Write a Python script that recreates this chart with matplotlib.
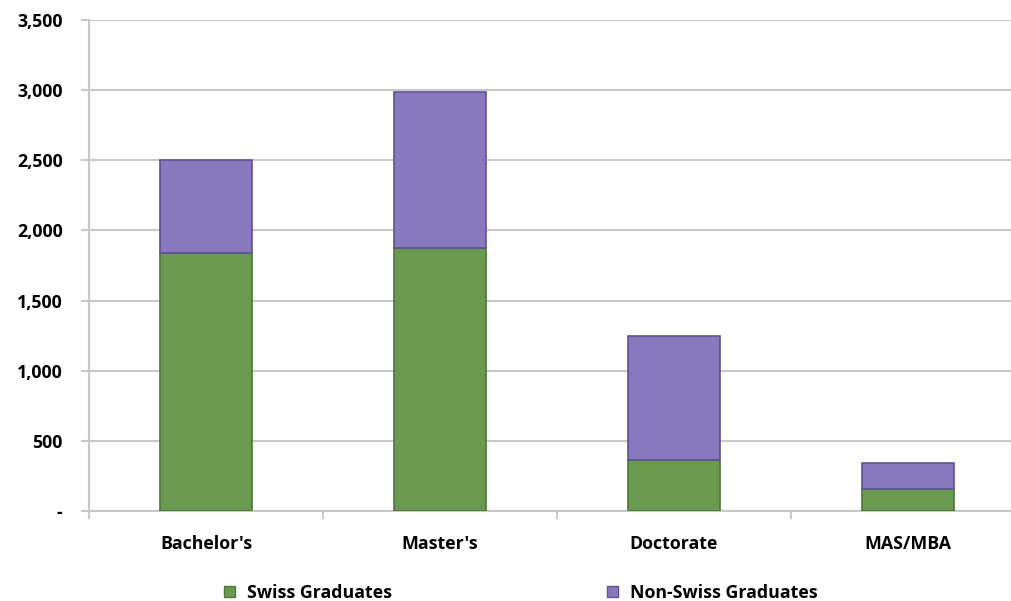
import matplotlib.pyplot as plt
from matplotlib.patches import Patch
from matplotlib.ticker import FuncFormatter

categories = ["Bachelor's", "Master's", "Doctorate", "MAS/MBA"]
swiss = [1840, 1875, 360, 155]
non_swiss = [660, 1115, 890, 185]
series_names = ["Swiss Graduates", "Non-Swiss Graduates"]

green = "#6a9a50"
green_edge = "#4d7638"
purple = "#8878bd"
purple_edge = "#5f5294"

plt.rcParams['font.family'] = ['Open Sans', 'DejaVu Sans']
fs = 12.8

fig = plt.figure(figsize=(10.11, 6.01), dpi=100)
# plot area runs past the right edge, as in the cropped original
ax = fig.add_axes([89 / 1011, 90 / 601, 936 / 1011, 491 / 601])

x = list(range(len(categories)))
ax.bar(x, swiss, width=0.39, color=green, edgecolor=green_edge, linewidth=1.2, zorder=3)
ax.bar(x, non_swiss, bottom=swiss, width=0.39, color=purple, edgecolor=purple_edge,
       linewidth=1.2, zorder=3)

ax.set_xlim(-0.5, len(categories) - 0.5)
ax.set_ylim(0, 3500)
ax.set_yticks(range(0, 3501, 500))
ax.yaxis.set_major_formatter(FuncFormatter(lambda v, p: "-" if v == 0 else f"{int(v):,}"))
ax.grid(axis='y', color='#c8c8c8', linewidth=1.5, zorder=0)

# category labels centred, tick marks on the boundaries
ax.set_xticks(x)
ax.set_xticklabels(categories, fontweight='bold', fontsize=fs)
ax.tick_params(axis='x', length=0, pad=17)
ax.set_xticks([i - 0.5 for i in range(len(categories) + 1)], minor=True)
ax.tick_params(axis='x', which='minor', length=6, width=1.5, color='#c8c8c8')
ax.tick_params(axis='y', length=6, width=1.5, color='#c8c8c8', labelsize=fs, pad=13)
for lbl in ax.get_yticklabels():
    lbl.set_fontweight('bold')

for s in ['top', 'right']:
    ax.spines[s].set_visible(False)
for s in ['left', 'bottom']:
    ax.spines[s].set_color('#c8c8c8')
    ax.spines[s].set_linewidth(1.5)

handles = [Patch(facecolor=green, edgecolor=green_edge),
           Patch(facecolor=purple, edgecolor=purple_edge)]
leg = fig.legend(handles, series_names, loc='center left', bbox_to_anchor=(208 / 1011, 8 / 601),
                 ncol=2, frameon=False, handlelength=0.6, handleheight=0.6,
                 handletextpad=0.7, columnspacing=12.1,
                 prop={'weight': 'bold', 'size': fs})

fig.savefig("out.png", dpi=100)
